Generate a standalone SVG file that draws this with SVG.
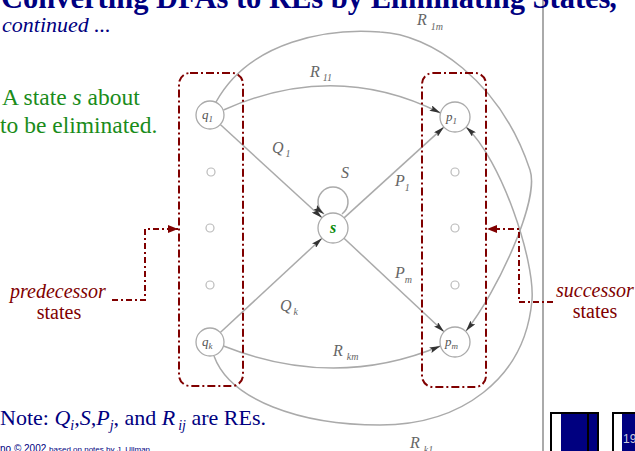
<svg xmlns="http://www.w3.org/2000/svg" width="635" height="451" viewBox="0 0 635 451">
<style>
.serif{font-family:"Liberation Serif","Times New Roman",serif}
.navy{fill:#000080}
.dr{fill:#800000}
.edge{fill:none;stroke:#aaa;stroke-width:1.5}
.node{fill:#fff;stroke:#aaa;stroke-width:1.3}
.dot{fill:#fff;stroke:#bbb;stroke-width:1.2}
.lbl{font-family:"Liberation Serif","Times New Roman",serif;font-style:italic;fill:#666;font-size:16px}
.nl{font-family:"Liberation Serif","Times New Roman",serif;font-style:italic;fill:#555;font-size:13px}
.box{fill:none;stroke:#800000;stroke-width:2;stroke-dasharray:8 3 2 3}
.ptr{fill:none;stroke:#800000;stroke-width:2;stroke-dasharray:6 3 2 3}
</style>
<defs>
<marker id="ah" viewBox="0 0 11 6" refX="11" refY="3" markerWidth="11" markerHeight="6" markerUnits="userSpaceOnUse" orient="auto"><path d="M0,0 L11,3 L0,6 L2,3 Z" fill="#333"/></marker>
<marker id="rh" viewBox="0 0 10 8" refX="10" refY="4" markerWidth="10" markerHeight="8" markerUnits="userSpaceOnUse" orient="auto"><path d="M0,0 L10,4 L0,8 Z" fill="#800000"/></marker>
</defs>
<rect width="635" height="451" fill="#fff"/>
<line x1="543" y1="0" x2="543" y2="451" stroke="#aaa" stroke-width="2"/>

<g id="title">
<text x="1" y="8" class="serif navy" font-size="30.5" font-weight="bold">Converting DFAs to REs by Eliminating States<tspan font-style="italic">,</tspan></text>
<text x="2" y="32" class="serif navy" font-size="22" font-style="italic">continued ...</text>
</g>

<g id="desc">
<text x="2" y="105" class="serif" font-size="23.5" fill="#1a8c1a">A state <tspan font-style="italic">s</tspan> about</text>
<text x="0" y="133" class="serif" font-size="23.5" fill="#1a8c1a">to be eliminated.</text>
</g>

<g id="connectors">
<path class="edge" d="M220.3,124.5 L322,217.8" marker-end="url(#ah)"/>
<path class="edge" d="M220.3,332.5 L322,238.2" marker-end="url(#ah)"/>
<path class="edge" d="M344.1,217.9 L443.9,127.1" marker-end="url(#ah)"/>
<path class="edge" d="M344,238.2 L444,331.8" marker-end="url(#ah)"/>
<path class="edge" d="M342,214 A15,15 0 1 0 324,214" marker-end="url(#ah)"/>
<path class="edge" d="M223.5,110 Q335,60 440.5,113" marker-end="url(#ah)"/>
<path class="edge" d="M223.5,346 Q335,390 440.5,346" marker-end="url(#ah)"/>
<path class="edge" d="M216,102 C250,40 330,28 380,32 C430,34 500,80 530,170 C540,200 497,292 466,331" marker-end="url(#ah)"/>
<path class="edge" d="M214,356 C230,400 300,425 380,425 C460,425 525,380 532,300 C535,260 501,159 466,127" marker-end="url(#ah)"/>
<path class="ptr" d="M112,300 H145 V229 H178" marker-end="url(#rh)"/>
<path class="ptr" d="M553,302 H519 V229 H487" marker-end="url(#rh)"/>
</g>

<g id="edge-labels">
<text x="310" y="77" class="lbl">R<tspan font-size="10" dx="3" dy="4">11</tspan></text>
<text x="417" y="25" class="lbl">R<tspan font-size="10" dx="4" dy="5">1m</tspan></text>
<text x="272" y="153" class="lbl">Q<tspan font-size="10" dx="2" dy="4">1</tspan></text>
<text x="341" y="178" class="lbl">S</text>
<text x="395" y="186" class="lbl">P<tspan font-size="10" dx="0" dy="5">1</tspan></text>
<text x="395" y="278" class="lbl">P<tspan font-size="10" dx="0" dy="5">m</tspan></text>
<text x="280" y="311" class="lbl">Q<tspan font-size="10" dx="2" dy="4">k</tspan></text>
<text x="333" y="356" class="lbl">R<tspan font-size="10" dx="4" dy="4">km</tspan></text>
<text x="410" y="448" class="lbl">R<tspan font-size="10" dx="4" dy="5">k1</tspan></text>
</g>

<g id="q1"><circle class="node" cx="210" cy="115" r="14"/><text x="202" y="119" class="nl">q<tspan font-size="9" dy="3">1</tspan></text></g>
<g id="qk"><circle class="node" cx="210" cy="342" r="14"/><text x="202" y="346" class="nl">q<tspan font-size="9" dy="3">k</tspan></text></g>
<g id="s"><circle class="node" cx="333" cy="228" r="15"/><text x="333" y="233" font-family="Liberation Serif,serif" font-size="16" font-weight="bold" font-style="italic" fill="#0a8a0a" text-anchor="middle">s</text></g>
<g id="p1"><circle class="node" cx="455" cy="117" r="15"/><text x="446" y="121" class="nl">p<tspan font-size="9" dy="3">1</tspan></text></g>
<g id="pm"><circle class="node" cx="455" cy="342" r="15"/><text x="445" y="346" class="nl">p<tspan font-size="9" dy="3">m</tspan></text></g>
<g id="dots">
<circle class="dot" cx="211" cy="172" r="4"/><circle class="dot" cx="210" cy="228" r="4"/><circle class="dot" cx="210" cy="285" r="4"/>
<circle class="dot" cx="455" cy="172" r="4"/><circle class="dot" cx="455" cy="228" r="4"/><circle class="dot" cx="455" cy="285" r="4"/>
</g>

<g id="predecessors"><rect class="box" x="179" y="73" width="64" height="313" rx="11"/></g>
<g id="successors"><rect class="box" x="422" y="73" width="64" height="314" rx="11"/></g>

<g id="pred-label">
<text x="10" y="298" class="serif dr" font-size="20" font-style="italic">predecessor</text>
<text x="59" y="319" class="serif dr" font-size="20" text-anchor="middle">states</text>
</g>
<g id="succ-label">
<text x="556" y="297" class="serif dr" font-size="20" font-style="italic">successor</text>
<text x="595" y="318" class="serif dr" font-size="20" text-anchor="middle">states</text>
</g>

<g id="note">
<text x="0" y="425" class="serif navy" font-size="22">Note: <tspan font-style="italic">Q</tspan><tspan font-style="italic" font-size="14" dy="5">i</tspan><tspan dy="-5" font-style="italic">,S,P</tspan><tspan font-style="italic" font-size="14" dy="5">j</tspan><tspan dy="-5">, and </tspan><tspan font-style="italic">R</tspan><tspan font-style="italic" font-size="14" dx="3" dy="5">ij</tspan><tspan dy="-5"> are REs.</tspan></text>
<text x="0" y="452" class="navy" font-size="10" style="font-family:'Liberation Sans',Arial,sans-serif">no © 2002 <tspan font-size="8">based on notes by J. Ullman</tspan></text>
</g>

<g id="nav">
<rect x="551" y="413" width="47" height="40" fill="#fff" stroke="#000" stroke-width="2"/>
<rect x="561" y="414" width="26" height="38" fill="#000080"/>
<rect x="587" y="414" width="2" height="38" fill="#000"/>
<rect x="589" y="414" width="8" height="38" fill="#000080"/>
<rect x="613" y="413" width="30" height="40" fill="#fff" stroke="#000" stroke-width="2"/>
<rect x="622" y="414" width="15" height="38" fill="#000080"/>
<text x="623" y="443" font-family="Liberation Sans,Arial,sans-serif" font-size="12" fill="#ccd">19</text>
</g>
</svg>
